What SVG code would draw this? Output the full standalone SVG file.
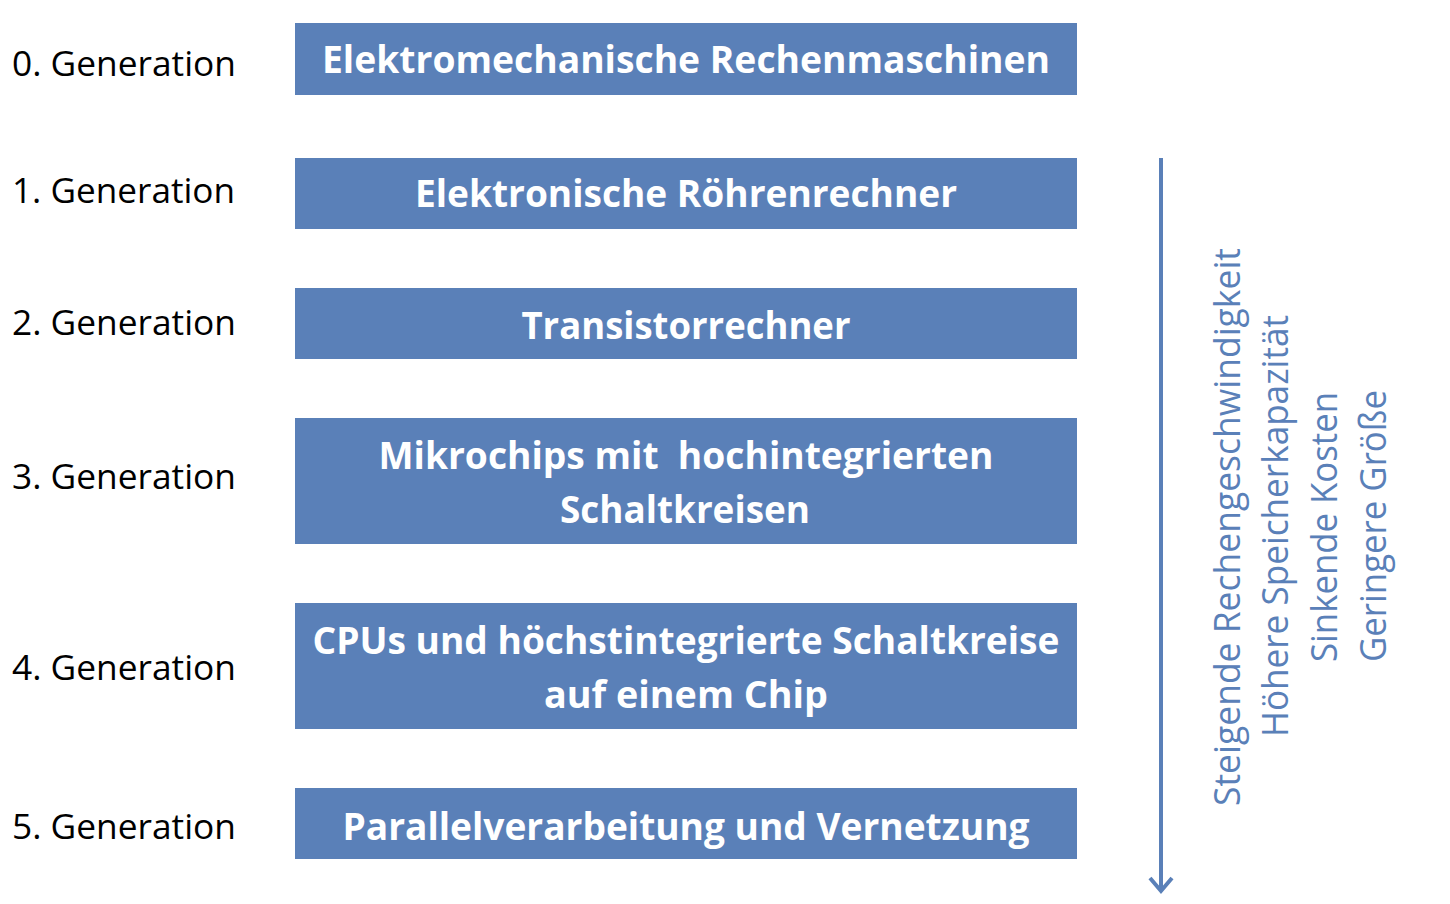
<svg xmlns="http://www.w3.org/2000/svg" width="1450" height="904" viewBox="0 0 1450 904">
<defs>
<style>
.box{fill:#5a80b8;}
.bt{font-family:"Open Sans","Liberation Sans",sans-serif;font-weight:bold;font-size:37px;fill:#ffffff;text-anchor:middle;}
.gl{font-family:"Open Sans","Liberation Sans",sans-serif;font-size:35px;fill:#000000;}
.rt{font-family:"Open Sans","Liberation Sans",sans-serif;font-size:37px;fill:#5a80b8;text-anchor:middle;}
.conn{stroke:#5a80b8;stroke-width:4;fill:none;}
</style>
</defs>
<rect width="1450" height="904" fill="#ffffff"/>
<g id="labels">
<text class="gl" x="12" y="76" textLength="224" lengthAdjust="spacingAndGlyphs">0. Generation</text>
<text class="gl" x="12" y="203" textLength="223" lengthAdjust="spacingAndGlyphs">1. Generation</text>
<text class="gl" x="12" y="335" textLength="224" lengthAdjust="spacingAndGlyphs">2. Generation</text>
<text class="gl" x="12" y="489" textLength="224" lengthAdjust="spacingAndGlyphs">3. Generation</text>
<text class="gl" x="12" y="680" textLength="224" lengthAdjust="spacingAndGlyphs">4. Generation</text>
<text class="gl" x="12" y="839" textLength="224" lengthAdjust="spacingAndGlyphs">5. Generation</text>
</g>
<g id="gen0">
<rect class="box" x="295" y="23" width="782" height="72"/>
<text class="bt" x="686" y="73" textLength="728" lengthAdjust="spacingAndGlyphs">Elektromechanische Rechenmaschinen</text>
</g>
<g id="gen1">
<rect class="box" x="295" y="158" width="782" height="71"/>
<text class="bt" x="686" y="207" textLength="542" lengthAdjust="spacingAndGlyphs">Elektronische Röhrenrechner</text>
</g>
<g id="gen2">
<rect class="box" x="295" y="288" width="782" height="71"/>
<text class="bt" x="686" y="339" textLength="329" lengthAdjust="spacingAndGlyphs">Transistorrechner</text>
</g>
<g id="gen3">
<rect class="box" x="295" y="418" width="782" height="126"/>
<text class="bt" x="686" y="469" textLength="615" lengthAdjust="spacingAndGlyphs" xml:space="preserve">Mikrochips mit  hochintegrierten</text>
<text class="bt" x="685" y="523" textLength="250" lengthAdjust="spacingAndGlyphs">Schaltkreisen</text>
</g>
<g id="gen4">
<rect class="box" x="295" y="603" width="782" height="126"/>
<text class="bt" x="686" y="654" textLength="747" lengthAdjust="spacingAndGlyphs">CPUs und höchstintegrierte Schaltkreise</text>
<text class="bt" x="686" y="708" textLength="284" lengthAdjust="spacingAndGlyphs">auf einem Chip</text>
</g>
<g id="gen5">
<rect class="box" x="295" y="788" width="782" height="71"/>
<text class="bt" x="686" y="840" textLength="687" lengthAdjust="spacingAndGlyphs">Parallelverarbeitung und Vernetzung</text>
</g>
<g id="connectors">
<line class="conn" x1="1161" y1="158" x2="1161" y2="891"/>
<polyline class="conn" points="1150,878 1161,891 1172,878" stroke-linejoin="miter"/>
</g>
<g id="trends">
<text class="rt" transform="translate(1240,527) rotate(-90)" x="0" y="0" textLength="558" lengthAdjust="spacingAndGlyphs">Steigende Rechengeschwindigkeit</text>
<text class="rt" transform="translate(1288,526) rotate(-90)" x="0" y="0" textLength="422" lengthAdjust="spacingAndGlyphs">Höhere Speicherkapazität</text>
<text class="rt" transform="translate(1337,527) rotate(-90)" x="0" y="0" textLength="270" lengthAdjust="spacingAndGlyphs">Sinkende Kosten</text>
<text class="rt" transform="translate(1386,526) rotate(-90)" x="0" y="0" textLength="272" lengthAdjust="spacingAndGlyphs">Geringere Größe</text>
</g>
</svg>
